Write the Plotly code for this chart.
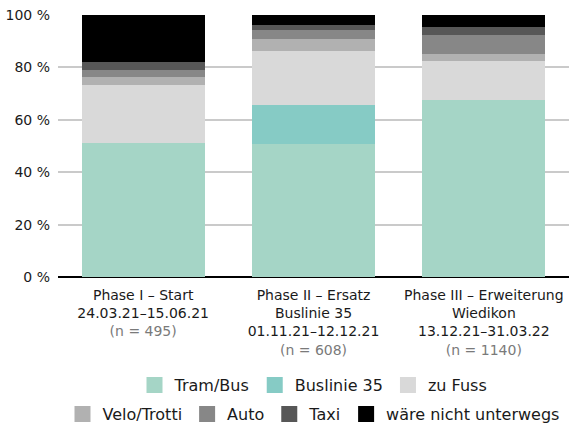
import plotly.graph_objects as go

# Survey phases (x categories) and their labels
phases = ["Phase I", "Phase II", "Phase III"]
phase_titles = [
    "Phase I – Start<br>24.03.21–15.06.21",
    "Phase II – Ersatz<br>Buslinie 35<br>01.11.21–12.12.21",
    "Phase III – Erweiterung<br>Wiedikon<br>13.12.21–31.03.22",
]
sample_sizes = ["(n = 495)", "(n = 608)", "(n = 1140)"]

# Share of respondents per alternative mode (percent), bottom to top
tram_bus = [51.2, 50.8, 67.7]
buslinie_35 = [0.0, 14.9, 0.0]
zu_fuss = [21.9, 20.7, 14.9]
velo_trotti = [3.1, 4.6, 2.7]
auto = [3.0, 3.4, 7.2]
taxi = [2.7, 1.9, 3.1]
nicht_unterwegs = [18.1, 3.7, 4.4]

y_ticks = [0, 20, 40, 60, 80, 100]
y_tick_labels = [f"{v}\u00a0%" for v in y_ticks]

series = [
    ("Tram/Bus", tram_bus, "#a5d5c6", "legend"),
    ("Buslinie 35", buslinie_35, "#86cbc5", "legend"),
    ("zu Fuss", zu_fuss, "#d9d9d9", "legend"),
    ("Velo/Trotti", velo_trotti, "#b1b1b1", "legend2"),
    ("Auto", auto, "#878787", "legend2"),
    ("Taxi", taxi, "#575757", "legend2"),
    ("wäre nicht unterwegs", nicht_unterwegs, "#000000", "legend2"),
]

FONT = "DejaVu Sans"
TEXT = "#1a1a1a"

fig = go.Figure()
for name, values, color, _ in series:
    fig.add_trace(go.Bar(
        x=phases, y=values, name=name,
        marker=dict(color=color, line=dict(width=0)),
        showlegend=False, hoverinfo="skip",
    ))

# Legend entries with larger square swatches
for name, _, color, legend in series:
    fig.add_trace(go.Scatter(
        x=[None], y=[None], mode="markers", name=name,
        marker=dict(symbol="square", size=16, color=color),
        legend=legend, showlegend=True,
    ))

tick_text = [
    f"{t}<br><span style='color:#7a7a7a'>{n}</span>"
    for t, n in zip(phase_titles, sample_sizes)
]

legend_common = dict(
    orientation="h", x=0.5, xanchor="center", xref="paper",
    yref="container", yanchor="middle", traceorder="normal",
    font=dict(size=16, color=TEXT), itemclick=False, itemdoubleclick=False,
    tracegroupgap=0,
)

fig.update_layout(
    width=576, height=425,
    margin=dict(l=58, r=7, t=15, b=148, autoexpand=False),
    barmode="stack", bargap=0.278,
    plot_bgcolor="white", paper_bgcolor="white",
    font=dict(family=FONT, size=14, color=TEXT),
    xaxis=dict(
        type="category", tickmode="array", tickvals=phases, ticktext=tick_text,
        showgrid=False, showline=False, ticks="", ticklabelstandoff=8,
        tickfont=dict(size=14, color=TEXT), automargin=False,
    ),
    yaxis=dict(
        range=[0, 100], tickmode="array", tickvals=y_ticks, ticktext=y_tick_labels,
        showgrid=True, gridcolor="#cacaca", gridwidth=1.5,
        zeroline=True, zerolinecolor="#000000", zerolinewidth=1.5,
        ticks="", showline=False, ticklabelstandoff=7,
        tickfont=dict(size=14, color=TEXT), automargin=False,
    ),
    legend=dict(y=1 - 385 / 425, **legend_common),
    legend2=dict(y=1 - 414 / 425, **legend_common),
)

fig.write_html("out.html")
